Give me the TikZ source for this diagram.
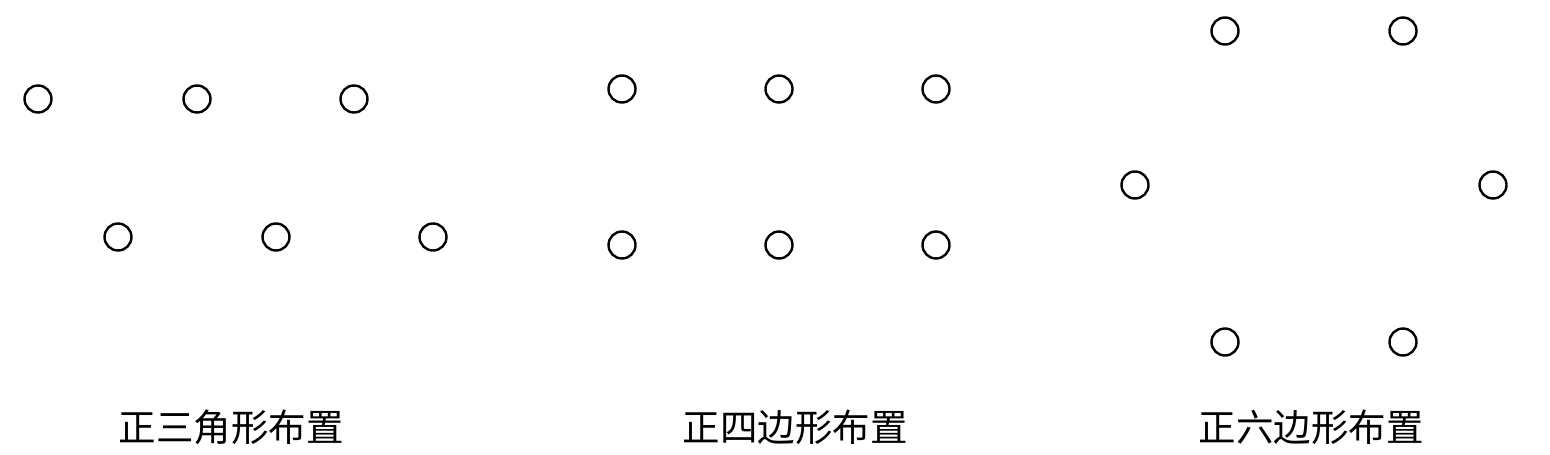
\documentclass[tikz,border=0pt]{standalone}
\usepackage{fontspec}
\newfontfamily\cjk{Noto Sans CJK SC}
\tikzset{
    hole/.style={circle, draw, line width=2.4pt, inner sep=0pt, minimum size=27pt},
    caption/.style={font=\cjk\fontsize{37.5}{37.5}\selectfont, inner sep=0pt}
}
\begin{document}
\begin{tikzpicture}[x=1pt, y=-1pt]
            \useasboundingbox (0,0) rectangle (1550,455);
            % triangle layout
            \node[hole] (t1) at (38, 99) {};
            \node[hole] (t2) at (197, 99) {};
            \node[hole] (t3) at (354, 99) {};
            \node[hole] (t4) at (118, 237) {};
            \node[hole] (t5) at (276, 237) {};
            \node[hole] (t6) at (433, 237) {};
            \node[caption] (tl) at (231, 427) {正三角形布置};
            % square layout
            \node[hole] (s1) at (622, 89) {};
            \node[hole] (s2) at (779, 89) {};
            \node[hole] (s3) at (936, 89) {};
            \node[hole] (s4) at (622, 245) {};
            \node[hole] (s5) at (779, 245) {};
            \node[hole] (s6) at (936, 245) {};
            \node[caption] (sl) at (795, 427) {正四边形布置};
            % hexagon layout
            \node[hole] (h1) at (1225, 31) {};
            \node[hole] (h2) at (1403, 31) {};
            \node[hole] (h3) at (1135, 185) {};
            \node[hole] (h4) at (1493, 185) {};
            \node[hole] (h5) at (1225, 342) {};
            \node[hole] (h6) at (1403, 342) {};
            \node[caption] (hl) at (1311, 427) {正六边形布置};
        \end{tikzpicture}
\end{document}
